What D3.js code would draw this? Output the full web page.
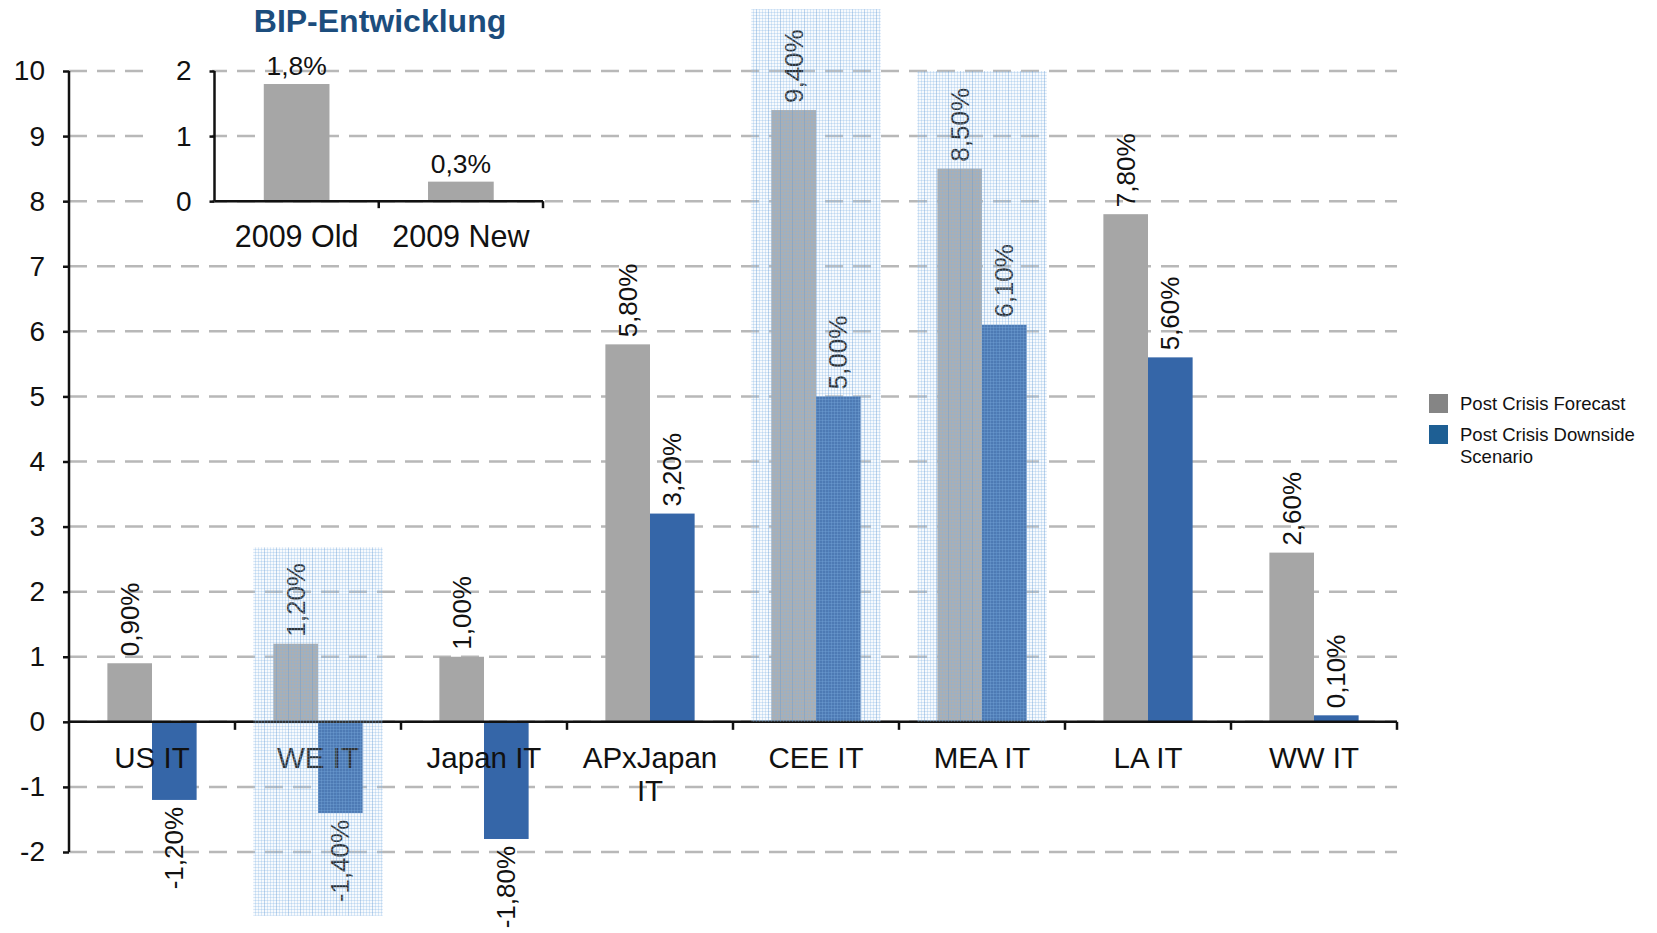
<!doctype html>
<html lang="de">
<head>
<meta charset="utf-8">
<script src="https://d3js.org/d3.v7.min.js"></script>
<style>
  body { margin: 0; background: #fff; }
  text { font-family: "Liberation Sans", Arial, sans-serif; fill: #111; }
</style>
</head>
<body>
<div id="chart"></div>
<script>
  // main chart data
  var categories = ["US IT", "WE IT", "Japan IT", "APxJapan IT", "CEE IT", "MEA IT", "LA IT", "WW IT"];
  var forecast = [0.9, 1.2, 1.0, 5.8, 9.4, 8.5, 7.8, 2.6];
  var downside = [-1.2, -1.4, -1.8, 3.2, 5.0, 6.1, 5.6, 0.1];
  var seriesNames = ["Post Crisis Forecast", "Post Crisis Downside Scenario"];
  var yTicks = [-2, -1, 0, 1, 2, 3, 4, 5, 6, 7, 8, 9, 10];

  // shaded regions (value range)
  var highlights = [
    { cat: "WE IT", from: -2.98, to: 2.68 },
    { cat: "CEE IT", from: 0, to: 10.95 },
    { cat: "MEA IT", from: 0, to: 10 }
  ];

  // inset: BIP-Entwicklung
  var insetTitle = "BIP-Entwicklung";
  var insetCats = ["2009 Old", "2009 New"];
  var insetValues = [1.8, 0.3];
  var insetTicks = [0, 1, 2];

  var W = 1657, H = 933;
  var grey = "#a6a6a6", blue = "#3566a8";
  var fmt = function (v, d) { return v.toFixed(d).replace(".", ",") + "%"; };
  var plainTick = function (d) { return String(d); };

  var svg = d3.select("#chart").append("svg")
    .attr("width", W).attr("height", H);

  var x0 = d3.scaleBand().domain(categories).range([69, 1397]);
  var x1 = d3.scaleBand().domain([0, 1]).range([0, x0.bandwidth()])
    .paddingInner(0).paddingOuter(0.86);
  var y = d3.scaleLinear().domain([-2, 10]).range([852, 71]);

  // dashed gridlines
  svg.append("g").selectAll("line").data(yTicks).enter().append("line")
    .attr("x1", 69).attr("x2", 1397)
    .attr("y1", d => y(d)).attr("y2", d => y(d))
    .style("stroke", "#b8b8b8").style("stroke-width", 2.5)
    .style("stroke-dasharray", "18,10");

  // bars
  var rows = categories.map((c, i) => ({ cat: c, vals: [forecast[i], downside[i]] }));
  var groups = svg.append("g").selectAll("g").data(rows).enter().append("g")
    .attr("transform", d => "translate(" + x0(d.cat) + ",0)");

  groups.selectAll("rect").data(d => d.vals.map((v, k) => ({ k: k, v: v }))).enter()
    .append("rect")
    .attr("x", d => x1(d.k))
    .attr("width", x1.bandwidth())
    .attr("y", d => y(Math.max(0, d.v)))
    .attr("height", d => Math.abs(y(d.v) - y(0)))
    .style("fill", d => d.k == 0 ? grey : blue);

  // value labels, rotated
  groups.selectAll("text.val").data(d => d.vals.map((v, k) => ({ k: k, v: v }))).enter()
    .append("text")
    .attr("class", "val")
    .attr("transform", function (d) {
      var cx = x1(d.k) + x1.bandwidth() / 2;
      var yy = d.v >= 0 ? y(d.v) - 7 : y(d.v) + 7;
      return "translate(" + cx + "," + yy + ") rotate(-90)";
    })
    .attr("dy", "0.35em")
    .attr("text-anchor", d => d.v >= 0 ? "start" : "end")
    .style("font-size", "26px")
    .text(d => fmt(d.v, 2));

  // y axis
  var yAxis = svg.append("g").attr("transform", "translate(69,0)")
    .call(d3.axisLeft(y).tickValues(yTicks).tickFormat(plainTick).tickSize(6).tickPadding(18));
  yAxis.select(".domain").style("stroke", "#111").style("stroke-width", 2.5)
    .attr("d", "M0," + y(10) + "V" + y(-2));
  yAxis.selectAll(".tick line").style("stroke", "#111").style("stroke-width", 2.5);
  yAxis.selectAll(".tick text").style("font-size", "28px").style("font-family", "Liberation Sans, Arial, sans-serif").style("fill", "#111");

  // x axis line at zero and boundary ticks
  svg.append("line").attr("x1", 69).attr("x2", 1397).attr("y1", y(0)).attr("y2", y(0))
    .style("stroke", "#111").style("stroke-width", 2.5);
  svg.append("g").selectAll("line").data(categories.slice(1).concat(["end"])).enter().append("line")
    .attr("x1", d => d == "end" ? 1397 : x0(d)).attr("x2", d => d == "end" ? 1397 : x0(d))
    .attr("y1", y(0)).attr("y2", y(0) + 8)
    .style("stroke", "#111").style("stroke-width", 2.5);

  // category labels (wrap long ones)
  var catText = svg.append("g").selectAll("text").data(categories).enter().append("text")
    .attr("x", d => x0(d) + x0.bandwidth() / 2)
    .attr("y", 768)
    .attr("text-anchor", "middle")
    .style("font-size", "29.5px");
  catText.each(function (d) {
    var t = d3.select(this);
    var cx = x0(d) + x0.bandwidth() / 2;
    t.text(d);
    if (this.getComputedTextLength() > x0.bandwidth() * 0.9) {
      var cut = d.lastIndexOf(" ");
      t.text(null);
      t.append("tspan").attr("x", cx).text(d.slice(0, cut));
      t.append("tspan").attr("x", cx).attr("dy", "1.12em").text(d.slice(cut + 1));
    }
  });

  // ---- inset chart ----
  var xi = d3.scaleBand().domain(insetCats).range([214.5, 543]);
  var yi = d3.scaleLinear().domain([0, 2]).range([y(8), y(10)]);

  svg.append("rect").attr("x", 150).attr("y", 50).attr("width", 62).attr("height", 165)
    .style("fill", "#fff");

  svg.append("text").attr("x", 380).attr("y", 32).attr("text-anchor", "middle")
    .style("font-size", "32px").style("font-weight", "bold").style("fill", "#1c4d7d")
    .text(insetTitle);

  svg.append("g").selectAll("rect").data(insetCats).enter().append("rect")
    .attr("x", d => xi(d) + xi.bandwidth() * 0.3)
    .attr("width", xi.bandwidth() * 0.4)
    .attr("y", (d, i) => yi(insetValues[i]))
    .attr("height", (d, i) => yi(0) - yi(insetValues[i]))
    .style("fill", grey);

  svg.append("g").selectAll("text").data(insetCats).enter().append("text")
    .attr("x", d => xi(d) + xi.bandwidth() / 2)
    .attr("y", (d, i) => yi(insetValues[i]) - 9)
    .attr("text-anchor", "middle")
    .style("font-size", "26.5px")
    .text((d, i) => fmt(insetValues[i], 1));

  var yiAxis = svg.append("g").attr("transform", "translate(214.5,0)")
    .call(d3.axisLeft(yi).tickValues(insetTicks).tickFormat(plainTick).tickSize(5).tickPadding(18));
  yiAxis.select(".domain").style("stroke", "#111").style("stroke-width", 2.5)
    .attr("d", "M0," + yi(2) + "V" + yi(0));
  yiAxis.selectAll(".tick line").style("stroke", "#111").style("stroke-width", 2.5);
  yiAxis.selectAll(".tick text").style("font-size", "28px").style("font-family", "Liberation Sans, Arial, sans-serif").style("fill", "#111");

  svg.append("line").attr("x1", 214.5).attr("x2", 543).attr("y1", yi(0)).attr("y2", yi(0))
    .style("stroke", "#111").style("stroke-width", 2.5);
  svg.append("g").selectAll("line").data([insetCats[1], "end"]).enter().append("line")
    .attr("x1", d => d == "end" ? 543 : xi(d)).attr("x2", d => d == "end" ? 543 : xi(d))
    .attr("y1", yi(0)).attr("y2", yi(0) + 7)
    .style("stroke", "#111").style("stroke-width", 2.5);

  svg.append("g").selectAll("text").data(insetCats).enter().append("text")
    .attr("x", d => xi(d) + xi.bandwidth() / 2)
    .attr("y", 247)
    .attr("text-anchor", "middle")
    .style("font-size", "30.5px")
    .text(d => d);

  // ---- shaded highlight regions (grid pattern on top) ----
  var defs = svg.append("defs");
  var pat = defs.append("pattern").attr("id", "grid")
    .attr("patternUnits", "userSpaceOnUse").attr("width", 12).attr("height", 3);
  pat.append("rect").attr("width", 12).attr("height", 3).style("fill", "rgba(205,225,245,0.16)");
  pat.append("rect").attr("width", 12).attr("height", 1).style("fill", "rgba(130,180,230,0.28)");
  [0, 3, 6, 9].forEach(function (px, i) {
    pat.append("rect").attr("x", px).attr("width", 1).attr("height", 3)
      .style("fill", i == 0 ? "rgba(100,155,215,0.4)" : "rgba(130,180,230,0.28)");
  });

  svg.append("g").selectAll("rect").data(highlights).enter().append("rect")
    .attr("x", d => x0(d.cat) + x0.bandwidth() * 0.11)
    .attr("width", x0.bandwidth() * 0.78)
    .attr("y", d => y(d.to))
    .attr("height", d => y(d.from) - y(d.to))
    .style("fill", "url(#grid)");

  // ---- legend ----
  var legend = svg.append("g").attr("transform", "translate(1429,394)");
  var legColors = ["#858585", "#1e5f94"];
  var legLines = [[seriesNames[0]], ["Post Crisis Downside", "Scenario"]];
  legColors.forEach(function (c, i) {
    var g = legend.append("g").attr("transform", "translate(0," + i * 31 + ")");
    g.append("rect").attr("width", 19).attr("height", 19).style("fill", c);
    var t = g.append("text").attr("x", 31).attr("y", 16).style("font-size", "18.5px");
    legLines[i].forEach(function (s, j) {
      t.append("tspan").attr("x", 31).attr("dy", j == 0 ? 0 : "1.17em").text(s);
    });
  });
</script>
</body>
</html>
